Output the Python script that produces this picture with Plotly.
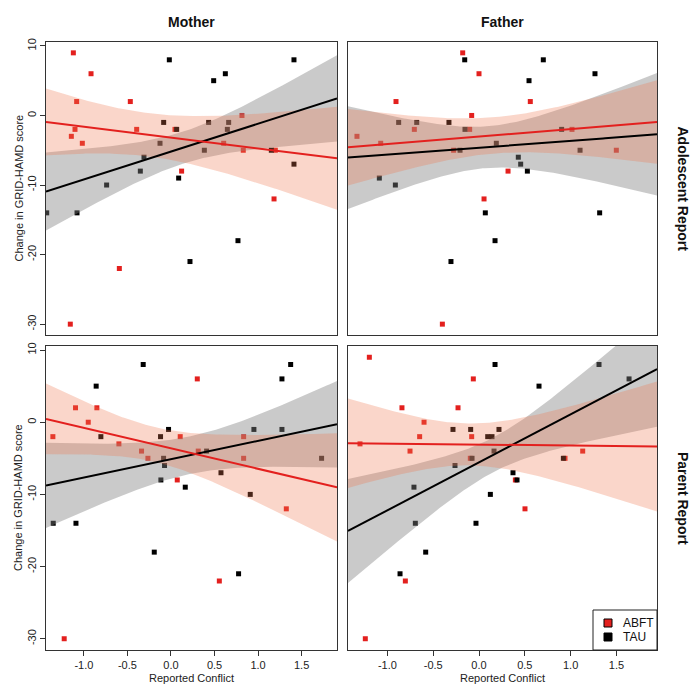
import numpy as np
import plotly.graph_objects as go

# ---------------- data ----------------
# Mother / Adolescent report
ma_abft_x = [-1.121, -0.918, -1.083, -0.467, -1.144, -1.102, -1.018, -0.394, 0.046, 0.122,
             0.605, 0.815, 0.830, 1.198, 1.183, -0.593, -1.156]
ma_abft_y = [9, 6, 2, 2, -3, -2, -4, -2, -2, -8, -4, 0, -5, -5, -12, -22, -30]
ma_tau_x = [-1.427, -1.079, -0.739, -0.352, -0.310, -0.126, -0.084, -0.019, 0.065, 0.088,
            0.218, 0.383, 0.432, 0.490, 0.624, 0.647, 0.662, 0.769, 1.152, 1.412, 1.412]
ma_tau_y = [-14, -14, -10, -8, -6, -4, -1, 8, -2, -9, -21, -5, -1, 5, 6, -2, -1, -18, -5, 8, -7]

# Father / Adolescent report
fa_abft_x = [-0.178, 0.000, -0.906, 0.560, -0.080, -1.332, -1.073, -0.706, -0.102, -0.277,
             1.015, 1.499, 0.317, 0.055, -0.400]
fa_abft_y = [9, 6, 2, 2, 0, -3, -4, -2, -2, -5, -2, -5, -8, -12, -30]
fa_tau_x = [-0.156, 0.702, 0.546, 1.266, -0.877, -0.680, -0.328, -0.153, 0.902, -0.207, 0.189,
            1.103, 0.429, 0.455, 0.528, -1.088, -0.913, 0.069, 1.317, 0.175, -0.306]
fa_tau_y = [8, 8, 5, 6, -1, -1, -1, -2, -2, -5, -4, -5, -6, -7, -8, -9, -10, -14, -14, -18, -21]

# Mother / Parent report
mp_abft_x = [-1.356, -1.096, -0.851, -0.950, -0.598, -0.338, -0.265, 0.106, 0.072, 0.302,
             0.313, 0.834, 0.834, 1.324, 0.555, -1.226]
mp_abft_y = [-2, 2, 2, 0, -3, -4, -5, -2, -8, 6, -4, -2, -5, -12, -22, -30]
mp_tau_x = [-0.319, -0.859, -0.805, -1.352, -1.091, -0.120, -0.028, -0.085, -0.074, -0.116,
            0.164, -0.192, 0.409, 0.574, 0.952, 0.910, 0.776, 1.274, 1.274, 1.374, 1.729]
mp_tau_y = [8, 5, -2, -14, -14, -2, -1, -5, -6, -8, -9, -18, -4, -7, -1, -10, -21, 6, -1, 8, -5]

# Father / Parent report
fp_abft_x = [-1.197, -0.062, -0.841, -0.229, -0.600, -0.648, -0.080, -1.299, -0.753, -0.095,
             0.939, 1.132, 0.397, 0.502, -0.804, -1.241]
fp_abft_y = [9, 6, 2, 2, 0, -2, -2, -3, -4, -5, -5, -4, -8, -12, -22, -30]
fp_tau_x = [0.175, 1.310, 0.655, 1.638, -0.284, -0.091, 0.218, 0.095, 0.142, 0.164, -0.076,
            -0.262, 0.921, 0.371, 0.415, -0.710, 0.124, -0.695, -0.033, -0.582, -0.862]
fp_tau_y = [8, 8, 5, 6, -1, -1, -1, -2, -2, -4, -5, -6, -5, -7, -8, -9, -10, -14, -14, -18, -21]

# fitted lines: value at the left and right edge of each panel
ma_abft_fit = [-0.94, -6.15]
ma_tau_fit = [-10.93, 2.45]
fa_abft_fit = [-4.58, -0.94]
fa_tau_fit = [-6.06, -2.71]
mp_abft_fit = [0.46, -9.03]
mp_tau_fit = [-8.76, -0.28]
fp_abft_fit = [-2.90, -3.36]
fp_tau_fit = [-15.07, 7.37]

# confidence band half-widths: [at left edge, narrowest, at right edge]
ma_abft_hw = [4.8, 3.1, 7.4]
ma_tau_hw = [5.6, 2.3, 6.2]
fa_abft_hw = [5.5, 2.6, 6.0]
fa_tau_hw = [7.4, 3.0, 8.8]
mp_abft_hw = [4.9, 2.4, 7.5]
mp_tau_hw = [5.9, 2.6, 6.0]
fp_abft_hw = [6.2, 2.9, 9.0]
fp_tau_hw = [7.2, 2.4, 8.0]

col_titles = ["Mother", "Father"]
row_titles = ["Adolescent Report", "Parent Report"]
x_ticks = [-1.0, -0.5, 0.0, 0.5, 1.0, 1.5]
x_tick_text = ["-1.0", "-0.5", "0.0", "0.5", "1.0", "1.5"]
y_ticks = [10, 0, -10, -20, -30]
y_tick_text = ["10", "0", "-10", "-20", "-30"]
group_names = ["ABFT", "TAU"]

# ---------------- style ----------------
RED = "#E3201E"
BLACK = "#000000"
RED_BAND = "rgba(240,120,80,0.30)"
GRAY_BAND = "rgba(128,128,128,0.42)"
FONT = "Liberation Sans, Arial, Helvetica, sans-serif"

X_RANGES = {1: [-1.435, 1.906], 2: [-1.430, 1.943], 3: [-1.435, 1.906], 4: [-1.430, 1.943]}
Y_RANGE = [-31.56, 10.56]

# the page body adds an 8px margin; map target screen pixels into figure paper coords
OFF = 8
W, H = 683, 677


def px(sx):
    return (sx - OFF) / W


def py(sy):
    return 1 - (sy - OFF) / H


def band(xr, fit, hw, xs):
    xl, xrr = xr
    L, m, R = hw
    p = np.sqrt(max(L ** 2 - m ** 2, 0))
    q = np.sqrt(max(R ** 2 - m ** 2, 0))
    x0 = xl + (xrr - xl) * p / (p + q)
    b = (p + q) / (xrr - xl)
    yhat = fit[0] + (fit[1] - fit[0]) * (xs - xl) / (xrr - xl)
    h = np.sqrt(m ** 2 + (b * (xs - x0)) ** 2)
    return yhat, yhat - h, yhat + h


panels = [
    (1, ma_abft_x, ma_abft_y, ma_tau_x, ma_tau_y, ma_abft_fit, ma_tau_fit, ma_abft_hw, ma_tau_hw),
    (2, fa_abft_x, fa_abft_y, fa_tau_x, fa_tau_y, fa_abft_fit, fa_tau_fit, fa_abft_hw, fa_tau_hw),
    (3, mp_abft_x, mp_abft_y, mp_tau_x, mp_tau_y, mp_abft_fit, mp_tau_fit, mp_abft_hw, mp_tau_hw),
    (4, fp_abft_x, fp_abft_y, fp_tau_x, fp_tau_y, fp_abft_fit, fp_tau_fit, fp_abft_hw, fp_tau_hw),
]

fig = go.Figure()

for idx, ax_, ay_, tx_, ty_, afit, tfit, ahw, thw in panels:
    xa = "x" if idx == 1 else f"x{idx}"
    ya = "y" if idx == 1 else f"y{idx}"
    xr = X_RANGES[idx]
    xs = np.linspace(xr[0], xr[1], 150)
    fig.add_trace(go.Scatter(x=ax_, y=ay_, mode="markers", xaxis=xa, yaxis=ya,
                             name=group_names[0],
                             marker=dict(symbol="square", size=5, color=RED),
                             showlegend=False, hoverinfo="skip"))
    fig.add_trace(go.Scatter(x=tx_, y=ty_, mode="markers", xaxis=xa, yaxis=ya,
                             name=group_names[1],
                             marker=dict(symbol="square", size=5, color=BLACK),
                             showlegend=False, hoverinfo="skip"))
    lines = []
    for fit, hw, bc in ((tfit, thw, GRAY_BAND), (afit, ahw, RED_BAND)):
        yhat, lo, hi = band(xr, fit, hw, xs)
        lines.append(yhat)
        fig.add_trace(go.Scatter(x=np.concatenate([xs, xs[::-1]]),
                                 y=np.concatenate([hi, lo[::-1]]),
                                 mode="lines", fill="toself", fillcolor=bc,
                                 line=dict(width=0), xaxis=xa, yaxis=ya,
                                 showlegend=False, hoverinfo="skip"))
    fig.add_trace(go.Scatter(x=xs, y=lines[0], mode="lines", xaxis=xa, yaxis=ya,
                             line=dict(color=BLACK, width=2), showlegend=False,
                             hoverinfo="skip"))
    fig.add_trace(go.Scatter(x=xs, y=lines[1], mode="lines", xaxis=xa, yaxis=ya,
                             line=dict(color=RED, width=2), showlegend=False,
                             hoverinfo="skip"))

colx = [(px(46), px(337)), (px(348), px(657))]
rowy = [(py(335), py(42)), (py(650), py(346))]

axis_common = dict(showgrid=False, zeroline=False, showline=True, mirror=True,
                   linecolor="#333333", linewidth=1, ticks="outside", ticklen=5,
                   tickwidth=1, tickcolor="#333333", automargin=False,
                   tickfont=dict(size=11, color="#222222", family=FONT))

layout = dict(width=W, height=H, margin=dict(l=0, r=0, t=0, b=0, pad=0, autoexpand=False),
              paper_bgcolor="white", plot_bgcolor="white", showlegend=False,
              font=dict(family=FONT, color="#111111"))

for idx in range(1, 5):
    r = 0 if idx <= 2 else 1
    c = 0 if idx in (1, 3) else 1
    xk = "xaxis" if idx == 1 else f"xaxis{idx}"
    yk = "yaxis" if idx == 1 else f"yaxis{idx}"
    ya = "y" if idx == 1 else f"y{idx}"
    xa = "x" if idx == 1 else f"x{idx}"
    xd = dict(axis_common, domain=list(colx[c]), range=X_RANGES[idx], anchor=ya,
              tickvals=x_ticks, ticktext=x_tick_text)
    if r == 0:
        xd.update(ticks="", showticklabels=False)
    yd = dict(axis_common, domain=list(rowy[r]), range=Y_RANGE, anchor=xa,
              tickvals=y_ticks, ticktext=y_tick_text, tickangle=-90)
    if c == 1:
        yd.update(ticks="", showticklabels=False)
    layout[xk] = xd
    layout[yk] = yd

ann_common = dict(xref="paper", yref="paper", showarrow=False, xanchor="center",
                  yanchor="middle")
annotations = []
for c, t in enumerate(col_titles):
    annotations.append(dict(ann_common, text=f"<b>{t}</b>", x=(colx[c][0] + colx[c][1]) / 2,
                            y=py(22), font=dict(size=14, family=FONT, color="#111111")))
for r, t in enumerate(row_titles):
    annotations.append(dict(ann_common, text=f"<b>{t}</b>", x=px(683),
                            y=(rowy[r][0] + rowy[r][1]) / 2, textangle=90,
                            font=dict(size=14, family=FONT, color="#111111")))
for r in range(2):
    annotations.append(dict(ann_common, text="Change in GRID-HAMD score", x=px(18),
                            y=(rowy[r][0] + rowy[r][1]) / 2, textangle=-90,
                            font=dict(size=11, family=FONT, color="#222222")))
for c in range(2):
    annotations.append(dict(ann_common, text="Reported Conflict",
                            x=(colx[c][0] + colx[c][1]) / 2, y=py(678),
                            font=dict(size=11, family=FONT, color="#222222")))

# legend (box, swatches and labels) in the bottom-right corner of the last panel
shapes = [dict(type="rect", xref="paper", yref="paper", x0=px(593), x1=px(657),
               y0=py(650), y1=py(610), line=dict(color="#222222", width=1),
               fillcolor="white", layer="above")]
for i, (name, col) in enumerate(zip(group_names, [RED, BLACK])):
    cy = 623 + 14 * i
    shapes.append(dict(type="rect", xref="paper", yref="paper", x0=px(604), x1=px(612),
                       y0=py(cy + 4), y1=py(cy - 4), line=dict(color="black", width=1),
                       fillcolor=col, layer="above"))
    annotations.append(dict(xref="paper", yref="paper", showarrow=False, xanchor="left",
                            yanchor="middle", text=name, x=px(621), y=py(cy),
                            font=dict(size=12, family=FONT, color="#111111")))
layout["annotations"] = annotations
layout["shapes"] = shapes

fig.update_layout(**layout)
fig.write_html("out.html")
